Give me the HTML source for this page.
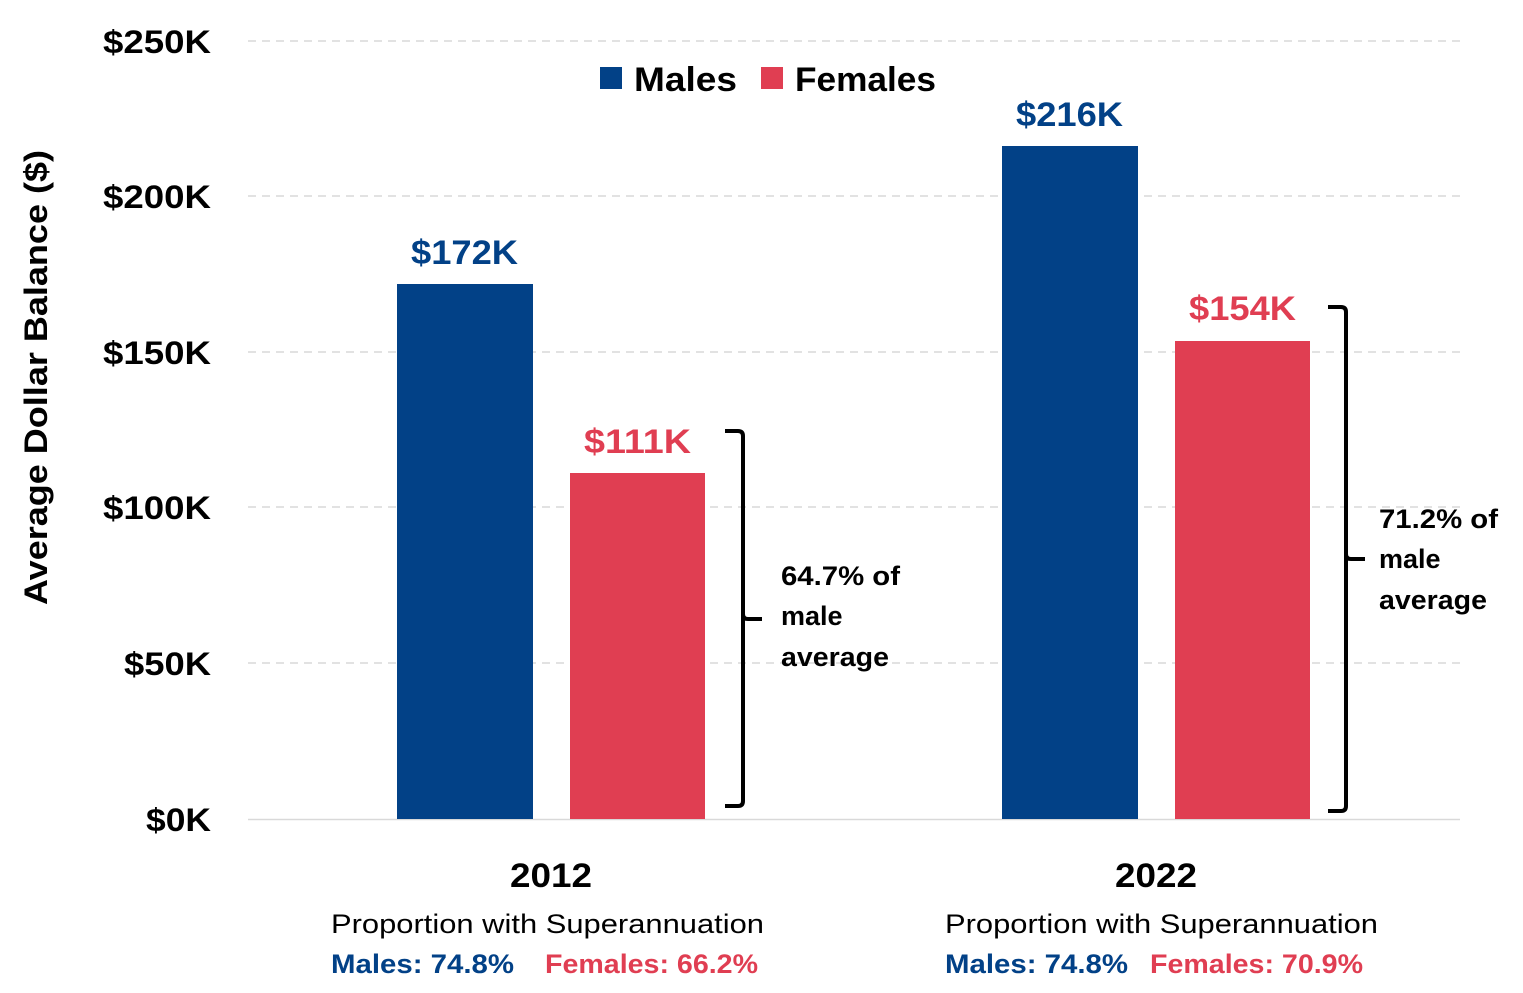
<!DOCTYPE html>
<html><head><meta charset="utf-8"><style>
html,body{margin:0;padding:0;background:#fff;}
svg{display:block;}
text{font-family:"Liberation Sans",sans-serif;font-weight:bold;}
</style></head><body>
<svg width="1523" height="993" viewBox="0 0 1523 993" xmlns="http://www.w3.org/2000/svg">
<g stroke="#d9d9d9" stroke-width="1.5" stroke-dasharray="8,6">
<line x1="248" y1="41" x2="1460" y2="41"/>
<line x1="248" y1="196" x2="1460" y2="196"/>
<line x1="248" y1="352" x2="1460" y2="352"/>
<line x1="248" y1="507" x2="1460" y2="507"/>
<line x1="248" y1="663" x2="1460" y2="663"/>
</g>
<line x1="248" y1="819.5" x2="1460" y2="819.5" stroke="#d9d9d9" stroke-width="1.5"/>
<g font-size="32" fill="#000" lengthAdjust="spacingAndGlyphs">
<text x="103" y="53" textLength="108" lengthAdjust="spacingAndGlyphs">$250K</text>
<text x="103" y="208" textLength="108" lengthAdjust="spacingAndGlyphs">$200K</text>
<text x="103" y="364" textLength="108" lengthAdjust="spacingAndGlyphs">$150K</text>
<text x="103" y="519" textLength="108" lengthAdjust="spacingAndGlyphs">$100K</text>
<text x="124" y="675" textLength="87" lengthAdjust="spacingAndGlyphs">$50K</text>
<text x="146" y="831" textLength="65" lengthAdjust="spacingAndGlyphs">$0K</text>
</g>
<text transform="translate(47,605) rotate(-90)" font-size="32" fill="#000" textLength="455" lengthAdjust="spacingAndGlyphs">Average Dollar Balance ($)</text>
<rect x="600" y="67" width="22" height="22" fill="#024187"/>
<text x="634" y="91" font-size="34" fill="#000" textLength="103" lengthAdjust="spacingAndGlyphs">Males</text>
<rect x="761" y="67" width="22" height="22" fill="#e03e52"/>
<text x="795" y="91" font-size="34" fill="#000" textLength="141" lengthAdjust="spacingAndGlyphs">Females</text>
<rect x="397" y="284" width="136" height="535" fill="#024187"/>
<rect x="570" y="473" width="135" height="346" fill="#e03e52"/>
<rect x="1002" y="146" width="136" height="673" fill="#024187"/>
<rect x="1175" y="341" width="135" height="478" fill="#e03e52"/>
<g font-size="34">
<text x="411" y="264" fill="#024187" textLength="107" lengthAdjust="spacingAndGlyphs">$172K</text>
<text x="584" y="453" fill="#e03e52" textLength="107" lengthAdjust="spacingAndGlyphs">$111K</text>
<text x="1016" y="126" fill="#024187" textLength="107" lengthAdjust="spacingAndGlyphs">$216K</text>
<text x="1189" y="320" fill="#e03e52" textLength="107" lengthAdjust="spacingAndGlyphs">$154K</text>
</g>
<g fill="none" stroke="#000" stroke-width="4">
<path d="M725,431 H738 Q743,431 743,436 V614 Q743,619 748,619 H762 M743,614 V801 Q743,806 738,806 H725"/>
<path d="M1328,307 H1341 Q1346,307 1346,312 V554 Q1346,559 1351,559 H1365 M1346,554 V806 Q1346,811 1341,811 H1328"/>
</g>
<g font-size="27" fill="#000">
<text x="781" y="585" textLength="119" lengthAdjust="spacingAndGlyphs">64.7% of</text>
<text x="781" y="625">male</text>
<text x="781" y="666" textLength="108" lengthAdjust="spacingAndGlyphs">average</text>
<text x="1379" y="528" textLength="119" lengthAdjust="spacingAndGlyphs">71.2% of</text>
<text x="1379" y="568">male</text>
<text x="1379" y="609" textLength="108" lengthAdjust="spacingAndGlyphs">average</text>
</g>
<g font-size="34" fill="#000">
<text x="510" y="887" textLength="82" lengthAdjust="spacingAndGlyphs">2012</text>
<text x="1115" y="887" textLength="82" lengthAdjust="spacingAndGlyphs">2022</text>
</g>
<g font-size="27" fill="#000">
<text x="331" y="933" style="font-weight:normal" textLength="433" lengthAdjust="spacingAndGlyphs">Proportion with Superannuation</text>
<text x="945" y="933" style="font-weight:normal" textLength="433" lengthAdjust="spacingAndGlyphs">Proportion with Superannuation</text>
</g>
<g font-size="27">
<text x="331" y="973" fill="#024187" textLength="183" lengthAdjust="spacingAndGlyphs">Males: 74.8%</text>
<text x="545" y="973" fill="#e03e52" textLength="213" lengthAdjust="spacingAndGlyphs">Females: 66.2%</text>
<text x="945" y="973" fill="#024187" textLength="183" lengthAdjust="spacingAndGlyphs">Males: 74.8%</text>
<text x="1150" y="973" fill="#e03e52" textLength="213" lengthAdjust="spacingAndGlyphs">Females: 70.9%</text>
</g>
</svg>
</body></html>
